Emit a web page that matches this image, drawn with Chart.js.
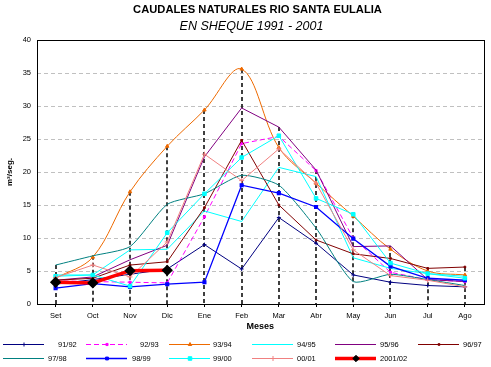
<!DOCTYPE html>
<html>
<head>
<meta charset="utf-8">
<script src="https://cdn.jsdelivr.net/npm/chart.js@4.4.1/dist/chart.umd.min.js"></script>
<style>
  body { margin: 0; background: #fff; }
  #wrap { width: 491px; height: 367px; }
</style>
</head>
<body>
<div id="wrap"><canvas id="chart"></canvas></div>
<script>
// Caudales mensuales (m3/seg) - Rio Santa Eulalia en Sheque
const meses = ['Set', 'Oct', 'Nov', 'Dic', 'Ene', 'Feb', 'Mar', 'Abr', 'May', 'Jun', 'Jul', 'Ago']
const yTicks = [0, 5, 10, 15, 20, 25, 30, 35, 40]

const q9192 = [3.0, 3.7, 4.5, 5.3, 9.0, 5.3, 13.1, 9.2, 4.4, 3.3, 2.8, 2.6]
const q9293 = [3.5, 3.4, 3.3, 3.2, 13.2, 24.3, 25.4, 20.2, 10.0, 4.8, 3.7, 3.4]
const q9394 = [3.9, 7.1, 17.0, 23.9, 29.4, 35.6, 23.7, 18.3, 13.3, 8.3, 5.0, 4.4]
const q9495 = [4.4, 4.4, 8.2, 8.3, 14.1, 12.5, 20.7, 19.3, 7.0, 5.4, 4.6, 4.2]
const q9596 = [3.6, 4.1, 6.7, 8.9, 22.3, 29.7, 26.8, 20.3, 8.7, 8.8, 3.7, 3.4]
const q9697 = [3.6, 3.9, 5.9, 6.4, 14.6, 24.8, 15.0, 9.7, 7.6, 6.9, 5.4, 5.6]
const q9798 = [5.9, 7.3, 8.7, 15.1, 16.7, 19.5, 18.0, 11.5, 3.4, 4.5, 3.7, 2.8]
const q9899 = [2.4, 3.1, 2.6, 3.0, 3.3, 18.0, 16.8, 14.7, 9.9, 5.7, 3.9, 3.6]
const q9900 = [4.2, 4.4, 2.7, 10.8, 16.7, 22.2, 25.5, 16.0, 13.6, 6.2, 4.6, 3.9]
const q0001 = [4.0, 5.9, 4.1, 9.4, 22.7, 18.7, 23.5, 18.3, 8.2, 4.3, 3.6, 2.6]
const q0102 = [3.3, 3.2, 5.05, 5.1, null, null, null, null, null, null, null, null]

const titulo = 'CAUDALES NATURALES RIO SANTA EULALIA'
const subtitulo = 'EN SHEQUE 1991 - 2001'

const FONT = "'Liberation Sans', Arial, sans-serif"

function serie(label, data, color, extra) {
  return Object.assign({
    label: label,
    data: data,
    borderColor: color,
    backgroundColor: color,
    borderWidth: 1,
    tension: 0,
    pointRadius: 0,
    pointStyle: 'rect',
    spanGaps: false
  }, extra)
}

const datasets = [
  serie('91/92', q9192, '#000080', { pointStyle: 'cross', pointRadius: 2 }),
  serie('92/93', q9293, '#FF00FF', { borderDash: [5, 3], pointStyle: 'rect', pointRadius: 1.5 }),
  serie('93/94', q9394, '#EE6A00', { tension: 0.35, pointStyle: 'triangle', pointRadius: 2 }),
  serie('94/95', q9495, '#00FFFF', {}),
  serie('95/96', q9596, '#800080', {}),
  serie('96/97', q9697, '#800000', { pointStyle: 'rect', pointRadius: 1.2 }),
  serie('97/98', q9798, '#008080', { tension: 0.2 }),
  serie('98/99', q9899, '#0000FF', { borderWidth: 1.3, pointStyle: 'rect', pointRadius: 2 }),
  serie('99/00', q9900, '#00FFFF', { pointStyle: 'rect', pointRadius: 2.5 }),
  serie('00/01', q0001, '#F08080', { pointStyle: 'cross', pointRadius: 2.5 }),
  serie('2001/02', q0102, '#FF0000', { borderWidth: 3.5, pointStyle: 'rectRot', pointRadius: 3.2,
    pointBackgroundColor: '#000', pointBorderColor: '#000' })
]
// Excel dibuja la ultima serie encima
datasets.forEach((d, i) => { d.order = datasets.length - i })

// Titulos centrados como en la hoja original
const titulos = {
  id: 'titulos',
  afterDraw(chart) {
    const ctx = chart.ctx
    ctx.save()
    ctx.fillStyle = '#000'
    ctx.textAlign = 'center'
    ctx.textBaseline = 'middle'
    ctx.font = 'bold 11.2px ' + FONT
    ctx.fillText(titulo, 257.5, 9.5)
    ctx.font = 'italic 12.5px ' + FONT
    ctx.fillText(subtitulo, 251.5, 26.7)
    ctx.restore()
  }
}

// Lineas de proyeccion desde el maximo de cada mes
const dropLines = {
  id: 'dropLines',
  beforeDatasetsDraw(chart) {
    const ctx = chart.ctx
    const x = chart.scales.x
    const y = chart.scales.y
    ctx.save()
    ctx.strokeStyle = '#000'
    ctx.lineWidth = 1.5
    ctx.setLineDash([4, 3])
    meses.forEach((m, i) => {
      let top = 0
      datasets.forEach(d => { if (d.data[i] != null && d.data[i] > top) top = d.data[i] })
      const px = Math.round(x.getPixelForValue(i))
      ctx.beginPath()
      ctx.moveTo(px, y.getPixelForValue(top))
      ctx.lineTo(px, y.getPixelForValue(0))
      ctx.stroke()
    })
    ctx.restore()
  }
}

// Marco del area de trazado
const frame = {
  id: 'frame',
  afterDatasetsDraw(chart) {
    const a = chart.chartArea
    const ctx = chart.ctx
    ctx.save()
    ctx.strokeStyle = '#000'
    ctx.lineWidth = 1
    ctx.strokeRect(Math.round(a.left) + 0.5, Math.round(a.top) + 0.5,
      Math.round(a.right - a.left), Math.round(a.bottom - a.top))
    ctx.restore()
  }
}

// Leyenda en dos filas, como en Excel
const legendBox = {
  id: 'legendBox',
  afterDraw(chart) {
    const ctx = chart.ctx
    const lineX = [3, 86, 169, 252, 335, 418, 3, 86, 169, 252, 335]
    const textX = [58, 140, 213, 297, 380, 463, 48, 132, 213, 297, 380]
    ctx.save()
    ctx.font = '7.5px ' + FONT
    ctx.textBaseline = 'middle'
    ctx.fillStyle = '#000'
    datasets.forEach((d, i) => {
      const rowY = i < 6 ? 344 : 358
      const x0 = lineX[i]
      ctx.save()
      ctx.strokeStyle = d.borderColor
      ctx.lineWidth = d.borderWidth
      ctx.setLineDash(d.borderDash || [])
      ctx.beginPath()
      ctx.moveTo(x0, rowY + 0.5)
      ctx.lineTo(x0 + 41, rowY + 0.5)
      ctx.stroke()
      ctx.restore()
      if (d.pointRadius > 0 && Chart.helpers && Chart.helpers.drawPoint) {
        ctx.save()
        ctx.fillStyle = d.pointBackgroundColor || d.borderColor
        ctx.strokeStyle = d.pointBorderColor || d.borderColor
        ctx.lineWidth = 1
        Chart.helpers.drawPoint(ctx, { pointStyle: d.pointStyle, radius: d.pointRadius, rotation: 0, borderWidth: 1 }, x0 + 21, rowY + 0.5)
        ctx.restore()
      }
      ctx.fillStyle = '#000'
      ctx.fillText(d.label, textX[i], rowY + 1)
    })
    ctx.restore()
  }
}

new Chart(document.getElementById('chart').getContext('2d'), {
  type: 'line',
  data: { labels: meses, datasets: datasets },
  options: {
    responsive: true,
    maintainAspectRatio: false,
    animation: false,
    layout: { padding: { top: 40, right: 6, bottom: 33, left: 0 } },
    plugins: {
      legend: { display: false },
      tooltip: { enabled: false },
      title: { display: false }
    },
    scales: {
      x: {
        offset: true,
        border: { display: false },
        grid: { drawOnChartArea: false, drawTicks: true, tickLength: 3, color: '#000' },
        ticks: { color: '#000', font: { family: FONT, size: 7.5 }, padding: 4, maxRotation: 0, autoSkip: false },
        title: { display: true, text: 'Meses', color: '#000', font: { family: FONT, size: 9, weight: 'bold' }, padding: { top: 0, bottom: 2 } },
        afterFit(scale) { scale.height = 30 }
      },
      y: {
        min: 0,
        max: 40,
        border: { display: false, dash: [4, 3] },
        grid: { color: '#C0C0C0', drawTicks: false, tickLength: 0 },
        afterBuildTicks(scale) { scale.ticks = yTicks.map(v => ({ value: v })) },
        ticks: { color: '#000', font: { family: FONT, size: 7.5 }, padding: 6 },
        title: { display: true, text: 'm³/seg.', color: '#000', font: { family: FONT, size: 8, weight: 'bold' }, padding: { top: 5, bottom: 2 } },
        afterFit(scale) { scale.width = 37 }
      }
    }
  },
  plugins: [titulos, dropLines, frame, legendBox]
})
</script>
</body>
</html>
